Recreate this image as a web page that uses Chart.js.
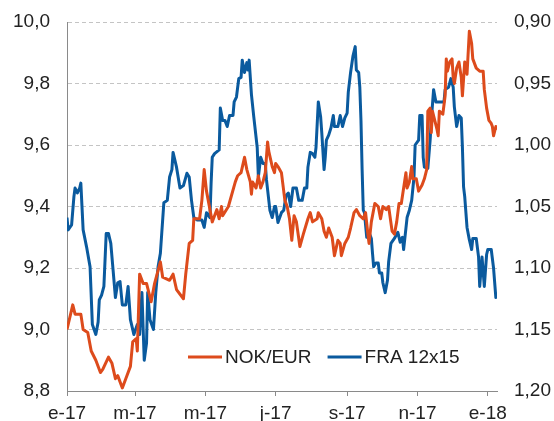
<!DOCTYPE html>
<html>
<head>
<meta charset="utf-8">
<script src="https://cdn.jsdelivr.net/npm/chart.js@4.4.1/dist/chart.umd.min.js"></script>
<style>
  html, body { margin: 0; padding: 0; background: #fff; }
  canvas { display: block; }
</style>
</head>
<body>
<canvas id="chart" width="554" height="421"></canvas>
<script>
// days counted from 1 Jan 2017
const tickDays = [0, 59, 120, 181, 243, 304, 365];
const tickLabels = ["e-17", "m-17", "m-17", "j-17", "s-17", "n-17", "e-18"];
const nokTicks = [8.8, 9.0, 9.2, 9.4, 9.6, 9.8, 10.0];
const fraTicks = [0.9, 0.95, 1.0, 1.05, 1.1, 1.15, 1.2];

const nokDays = [0,5,7,12,14,18,21,25,29,31,36,39,42,44,48,51,55,57,60,61,63,66,69,73,76,81,83,89,92,95,
  101,103,106,109,110,115,117,119,121,126,128,130,132,134,135,140,146,148,151,154,156,159,160,161,164,166,168,170,172,174,
  175,178,180,181,183,186,189,191,193,195,197,199,202,205,209,211,213,217,218,221,223,225,227,230,232,235,237,238,241,244,
  246,249,251,254,257,259,261,262,264,267,270,272,274,277,279,282,284,286,288,290,294,295,297,299,300,303,305,308,310,312,
  313,315,316,317,321,322,323,326,328,329,330,332,334,335,336,338,340,342,343,345,347,349,351,352,355,358,361,362,364,366,
  368,369,370,372,373];
const nokRates = [9.00,9.08,9.05,9.05,9.00,8.99,8.93,8.90,8.86,8.87,8.91,8.89,8.84,8.85,8.81,8.84,8.88,8.96,8.97,8.93,9.18,9.15,9.15,9.09,9.15,9.22,9.17,9.16,9.18,9.13,
  9.10,9.18,9.28,9.29,9.36,9.36,9.42,9.52,9.45,9.35,9.37,9.39,9.36,9.40,9.37,9.40,9.48,9.50,9.51,9.56,9.52,9.48,9.44,9.48,9.46,9.50,9.46,9.48,9.51,9.61,
  9.58,9.53,9.51,9.54,9.53,9.51,9.42,9.40,9.36,9.29,9.37,9.35,9.27,9.31,9.36,9.38,9.35,9.36,9.38,9.36,9.32,9.30,9.33,9.30,9.24,9.29,9.28,9.24,9.28,9.30,
  9.33,9.38,9.39,9.37,9.36,9.38,9.31,9.28,9.35,9.41,9.40,9.36,9.40,9.39,9.40,9.32,9.31,9.35,9.41,9.41,9.51,9.46,9.48,9.53,9.49,9.49,9.45,9.47,9.49,9.52,
  9.71,9.72,9.64,9.71,9.65,9.63,9.71,9.70,9.76,9.88,9.84,9.87,9.88,9.82,9.80,9.85,9.87,9.82,9.76,9.87,9.83,9.97,9.93,9.88,9.85,9.84,9.84,9.78,9.72,9.68,
  9.67,9.66,9.63,9.66,9.65];

const fraDays = [0,1,4,6,7,9,11,12,14,17,20,22,25,27,28,30,32,34,36,38,40,42,44,46,48,51,53,55,58,61,
  63,65,67,69,70,72,75,77,79,81,84,87,89,91,92,95,98,101,104,106,108,110,113,117,119,121,124,125,126,128,
  132,133,135,137,139,141,144,145,147,149,151,152,154,156,157,158,160,162,165,166,168,170,172,173,176,178,180,181,183,186,
  188,190,192,194,196,199,201,204,206,208,209,211,213,215,216,218,220,221,223,224,225,227,229,231,232,235,237,239,241,243,
  244,246,248,250,251,253,254,255,256,257,258,260,262,264,265,266,268,270,271,273,274,276,278,279,281,284,287,289,291,292,
  295,297,299,301,302,305,306,308,309,310,313,315,316,318,320,323,327,328,331,333,335,336,338,340,342,343,344,345,347,349,
  351,352,355,357,358,360,362,364,365,368,370,372,373];
const fraRates = [1.059,1.069,1.065,1.042,1.035,1.039,1.035,1.031,1.069,1.083,1.099,1.146,1.154,1.144,1.126,1.122,1.115,1.072,1.072,1.080,1.102,1.124,1.112,1.111,1.130,1.130,1.115,1.142,1.154,1.146,
  1.154,1.120,1.175,1.161,1.120,1.142,1.150,1.120,1.099,1.088,1.047,1.045,1.026,1.020,1.006,1.018,1.035,1.033,1.023,1.026,1.045,1.059,1.061,1.061,1.067,1.055,1.059,1.031,1.010,1.007,
  1.004,0.970,0.980,0.980,0.985,0.976,0.976,0.965,0.961,0.946,0.945,0.931,0.941,0.933,0.939,0.931,0.959,0.977,1.002,1.026,1.010,1.015,1.015,1.028,1.053,1.059,1.050,1.050,1.063,1.055,
  1.053,1.041,1.039,1.050,1.035,1.035,1.045,1.045,1.035,1.035,1.018,1.006,1.007,1.010,1.002,0.965,0.977,0.990,1.020,1.010,0.996,0.992,0.986,0.976,0.985,0.985,0.976,0.985,0.978,0.974,
  0.957,0.941,0.928,0.920,0.939,0.941,0.953,0.980,1.020,1.053,1.055,1.075,1.071,1.076,1.088,1.099,1.096,1.096,1.104,1.104,1.112,1.120,1.110,1.095,1.080,1.076,1.071,1.079,1.075,1.085,
  1.059,1.053,1.045,1.026,1.000,0.996,0.976,0.976,1.010,1.018,1.019,0.996,0.980,0.955,0.965,0.965,0.965,0.955,0.953,0.946,0.953,0.969,0.985,0.976,0.978,1.002,1.034,1.042,1.067,1.077,
  1.085,1.076,1.076,1.091,1.115,1.091,1.115,1.089,1.085,1.085,1.100,1.124,1.120];

const ORANGE = "#DD4B1C";
const BLUE = "#0A5A9E";
const FONT = "'Liberation Sans', Arial, sans-serif";

const toPoints = (days, vals) => days.map((d, i) => ({ x: d, y: vals[i] }));
const comma = (v, dec) => v.toFixed(dec).replace(".", ",");

// fixed axis boxes so the plot sits where the original has it
const fitSide = (width) => (scale) => {
  scale.width = width;
  scale.paddingTop = 0;
  scale.paddingBottom = 0;
};

// legend drawn inside the plot, near the bottom
const insideLegend = {
  id: "insideLegend",
  afterDraw(chart) {
    const { ctx, chartArea } = chart;
    ctx.save();
    ctx.font = "19px " + FONT;
    ctx.textBaseline = "middle";
    ctx.fillStyle = "#222";
    let x = chartArea.left + 121;
    const y = chartArea.bottom - 34;
    chart.data.datasets.forEach((ds) => {
      ctx.strokeStyle = ds.borderColor;
      ctx.lineWidth = 3;
      ctx.beginPath();
      ctx.moveTo(x, y);
      ctx.lineTo(x + 34, y);
      ctx.stroke();
      ctx.fillText(ds.label, x + 37, y + 1);
      x += 37 + ctx.measureText(ds.label).width + 16;
    });
    ctx.restore();
  },
};

new Chart(document.getElementById("chart"), {
  type: "line",
  data: {
    datasets: [
      {
        label: "NOK/EUR",
        data: toPoints(nokDays, nokRates),
        yAxisID: "y",
        borderColor: ORANGE,
        borderWidth: 3,
        pointRadius: 0,
        tension: 0,
        borderJoinStyle: "round",
      },
      {
        label: "FRA 12x15",
        data: toPoints(fraDays, fraRates),
        yAxisID: "y1",
        borderColor: BLUE,
        borderWidth: 3,
        pointRadius: 0,
        tension: 0,
        borderJoinStyle: "round",
      },
    ],
  },
  options: {
    responsive: false,
    animation: false,
    layout: { padding: { top: 22 } },
    plugins: { legend: { display: false }, tooltip: { enabled: false } },
    scales: {
      x: {
        type: "linear",
        min: 0,
        max: 373,
        afterBuildTicks: (scale) => {
          scale.ticks = tickDays.map((d) => ({ value: d }));
        },
        afterFit: (scale) => { scale.height = 30; },
        ticks: {
          callback: (v, i) => tickLabels[i],
          font: { family: FONT, size: 19 },
          color: "#222",
          padding: 6,
          maxRotation: 0,
          autoSkip: false,
        },
        grid: { drawOnChartArea: false, drawTicks: true, tickLength: 5, color: "#8a8a8a" },
        border: { display: true, color: "#8a8a8a" },
      },
      y: {
        position: "left",
        min: 8.8,
        max: 10.0,
        afterBuildTicks: (scale) => {
          scale.ticks = nokTicks.map((v) => ({ value: v }));
        },
        afterFit: fitSide(67),
        ticks: {
          callback: (v) => comma(v, 1),
          font: { family: FONT, size: 19 },
          color: "#222",
          padding: 17,
        },
        grid: { color: "#c4c4c4", drawTicks: false },
        border: { display: true, color: "#8a8a8a", dash: [4, 3] },
      },
      y1: {
        position: "right",
        reverse: true,
        min: 0.9,
        max: 1.2,
        afterBuildTicks: (scale) => {
          scale.ticks = fraTicks.map((v) => ({ value: v }));
        },
        afterFit: fitSide(57),
        ticks: {
          callback: (v) => comma(v, 2),
          font: { family: FONT, size: 19 },
          color: "#222",
          padding: 17,
        },
        grid: { display: false, drawTicks: false },
        border: { display: false },
      },
    },
  },
  plugins: [insideLegend],
});
</script>
</body>
</html>
